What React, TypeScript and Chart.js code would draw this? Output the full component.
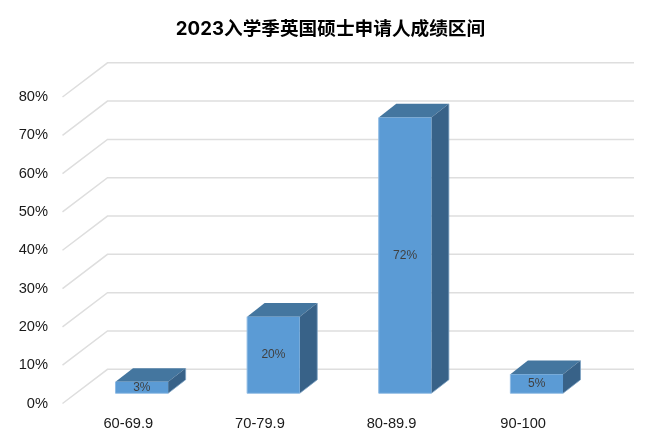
import React, { useEffect, useRef } from "react";
import { Chart, registerables } from "chart.js";

Chart.register(...registerables);

const categories = ["60-69.9", "70-79.9", "80-89.9", "90-100"];
const seriesValues = [3, 20, 72, 5];
const yTicks = [0, 10, 20, 30, 40, 50, 60, 70, 80];
const chartTitle = "2023入学季英国硕士申请人成绩区间";

const WALL_DX = 45;
const WALL_DY = -34.2;
const BAR_OFFSET_X = 13.5;
const BAR_OFFSET_Y = -10.2;
const BAR_DEPTH_X = 17.5;
const BAR_DEPTH_Y = -13.6;

const threeD = {
  id: "threeD",
  beforeDatasetsDraw(chart: any) {
    const { ctx, chartArea, scales } = chart;
    ctx.save();
    ctx.lineWidth = 1.5;
    ctx.strokeStyle = "#DEDEDE";
    for (const v of yTicks) {
      const y = scales.y.getPixelForValue(v);
      ctx.beginPath();
      ctx.moveTo(chartArea.left, y);
      ctx.lineTo(chartArea.left + WALL_DX, y + WALL_DY);
      ctx.lineTo(chartArea.right + WALL_DX, y + WALL_DY);
      ctx.stroke();
    }
    ctx.restore();
  },
  beforeDatasetDraw(chart: any, args: any) {
    const { ctx } = chart;
    ctx.save();
    ctx.translate(BAR_OFFSET_X, BAR_OFFSET_Y);
    const meta = chart.getDatasetMeta(args.index);
    for (const el of meta.data) {
      const p = el.getProps(["x", "y", "base", "width"], true);
      const l = p.x - p.width / 2;
      const r = p.x + p.width / 2;
      ctx.fillStyle = "#44769F";
      ctx.beginPath();
      ctx.moveTo(l, p.y);
      ctx.lineTo(l + BAR_DEPTH_X, p.y + BAR_DEPTH_Y);
      ctx.lineTo(r + BAR_DEPTH_X, p.y + BAR_DEPTH_Y);
      ctx.lineTo(r, p.y);
      ctx.closePath();
      ctx.fill();
      ctx.fillStyle = "#386288";
      ctx.beginPath();
      ctx.moveTo(r, p.y);
      ctx.lineTo(r + BAR_DEPTH_X, p.y + BAR_DEPTH_Y);
      ctx.lineTo(r + BAR_DEPTH_X, p.base + BAR_DEPTH_Y);
      ctx.lineTo(r, p.base);
      ctx.closePath();
      ctx.fill();
      ctx.strokeStyle = "#7FA3C4";
      ctx.lineWidth = 0.8;
      ctx.beginPath();
      ctx.moveTo(r + BAR_DEPTH_X, p.y + BAR_DEPTH_Y);
      ctx.lineTo(r + BAR_DEPTH_X, p.base + BAR_DEPTH_Y);
      ctx.lineTo(r, p.base);
      ctx.stroke();
    }
  },
  afterDatasetDraw(chart: any, args: any) {
    const { ctx } = chart;
    const meta = chart.getDatasetMeta(args.index);
    ctx.textAlign = "center";
    ctx.textBaseline = "middle";
    meta.data.forEach((el: any, i: number) => {
      const p = el.getProps(["x", "y", "base", "width"], true);
      const l = p.x - p.width / 2;
      const r = p.x + p.width / 2;
      ctx.strokeStyle = "#8FBBE4";
      ctx.lineWidth = 1;
      ctx.beginPath();
      ctx.moveTo(l, p.y);
      ctx.lineTo(l, p.base);
      ctx.lineTo(r, p.base);
      ctx.stroke();
      ctx.font = '12px "Liberation Sans"';
      ctx.fillStyle = "#404040";
      ctx.fillText(`${seriesValues[i]}%`, p.x, (p.y + p.base) / 2);
    });
    ctx.restore();
  },
};

export default function App() {
  const ref = useRef<HTMLCanvasElement>(null);
  useEffect(() => {
    const chart = new Chart(ref.current as HTMLCanvasElement, {
      type: "bar",
      data: {
        labels: categories,
        datasets: [
          {
            data: seriesValues,
            backgroundColor: "#5B9BD5",
            borderWidth: 0,
            barPercentage: 0.4,
            categoryPercentage: 1,
          },
        ],
      },
      options: {
        animation: false,
        responsive: false,
        devicePixelRatio: 1,
        plugins: {
          legend: { display: false },
          tooltip: { enabled: false },
          title: {
            display: true,
            text: chartTitle,
            color: "#000000",
            font: { family: '"Inter", "Noto Sans CJK SC"', size: 18.67, weight: "bold" },
            padding: { top: 17.8, bottom: 56.8 },
          },
        },
        scales: {
          x: {
            grid: { display: false, drawTicks: false },
            border: { display: false },
            ticks: {
              color: "#1A1A1A",
              font: { family: '"Liberation Sans"', size: 14.67 },
              padding: 12,
              maxRotation: 0,
            },
            afterFit: (s: any) => {
              s.height = 39.5;
            },
          },
          y: {
            min: 0,
            max: 80,
            grid: { display: false, drawTicks: false },
            border: { display: false },
            ticks: {
              stepSize: 10,
              color: "#1A1A1A",
              font: { family: '"Liberation Sans"', size: 14.67 },
              padding: 14.5,
              callback: (v: any) => `${v}%`,
            },
            afterFit: (s: any) => {
              s.width = 62.5;
            },
          },
          spacer: {
            position: "right",
            display: true,
            grid: { display: false, drawTicks: false },
            border: { display: false },
            ticks: { display: false },
            afterFit: (s: any) => {
              s.width = 72;
            },
          },
        },
      },
      plugins: [threeD],
    } as any);
    return () => chart.destroy();
  }, []);
  return (
    <div style={{ position: "absolute", left: 0, top: 0, width: 661, height: 443, background: "#fff" }}>
      <canvas ref={ref} width={661} height={443} style={{ display: "block" }} />
    </div>
  );
}
